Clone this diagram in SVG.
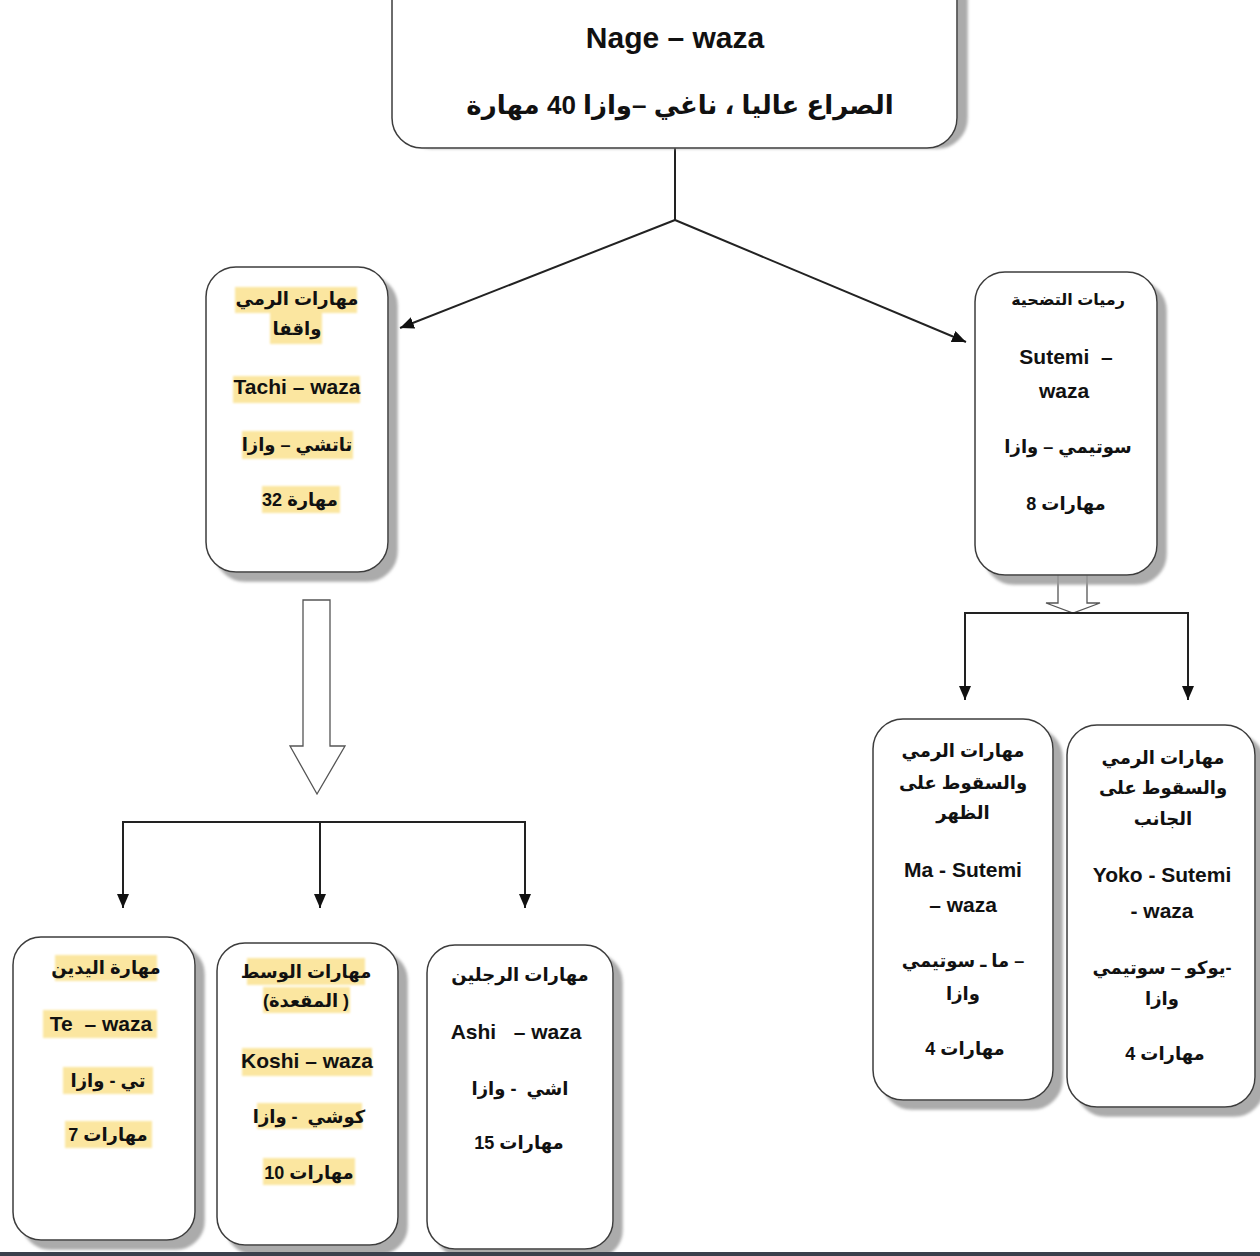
<svg xmlns="http://www.w3.org/2000/svg" width="1260" height="1256" viewBox="0 0 1260 1256">
<style>
.box{fill:#fff;stroke:#3c3c3c;stroke-width:1.5;filter:url(#sh)}
.t{font-family:"Liberation Sans","DejaVu Sans",sans-serif;font-weight:bold;fill:#111;text-anchor:middle}
.lat{font-size:21px}
.ar{font-size:18px}
.hl{fill:#fbe6a0}
.ln{fill:none;stroke:#222;stroke-width:2}
.hol{fill:#fff;stroke:#555;stroke-width:1.3}
</style>
<defs>
<filter id="sh" x="-10%" y="-10%" width="130%" height="130%">
<feDropShadow dx="9" dy="9" stdDeviation="1.5" flood-color="#9c9c9c" flood-opacity="0.85"/>
</filter>
<filter id="sh2" x="-10%" y="-10%" width="130%" height="130%">
<feDropShadow dx="10" dy="0" stdDeviation="1.5" flood-color="#9c9c9c" flood-opacity="0.85"/>
</filter>
<filter id="soft" x="-10%" y="-20%" width="120%" height="140%">
<feGaussianBlur stdDeviation="1.2"/>
</filter>
<marker id="ah" markerUnits="userSpaceOnUse" markerWidth="14" markerHeight="12" viewBox="0 0 14 12" refX="14" refY="6" orient="auto">
<path d="M0,0 L14,6 L0,12 z" fill="#111"/>
</marker>
</defs>
<rect x="0" y="0" width="1260" height="1256" fill="#fff"/>

<g id="connectors">
<line class="ln" x1="675" y1="148" x2="675" y2="220"/>
<line class="ln" x1="675" y1="220" x2="400" y2="328" marker-end="url(#ah)"/>
<line class="ln" x1="675" y1="220" x2="966" y2="342" marker-end="url(#ah)"/>
<polygon class="hol" points="303,600 330,600 330,746 345,746 317,794 290,746 303,746"/>
<polyline class="ln" points="123,908 123,822 525,822 525,908" marker-end="url(#ah)"/>
<line class="ln" x1="123" y1="822" x2="123" y2="908" marker-end="url(#ah)"/>
<line class="ln" x1="320" y1="822" x2="320" y2="908" marker-end="url(#ah)"/>
<polygon class="hol" points="1058,574 1087,574 1087,603 1100,603 1073,613 1046,603 1058,603"/>
<polyline class="ln" points="965,700 965,613 1188,613 1188,700" marker-end="url(#ah)"/>
<line class="ln" x1="965" y1="613" x2="965" y2="700" marker-end="url(#ah)"/>
</g>

<g id="nage-waza">
<rect x="392" y="-30" width="565" height="178" rx="30" fill="#fff" stroke="#3c3c3c" stroke-width="1.5" filter="url(#sh2)"/>
<text class="t" x="675" y="48" style="font-size:30px">Nage – waza</text>
<text class="t" x="680" y="114" style="font-size:26px">الصراع عاليا ، ناغي –وازا 40 مهارة</text>
</g>

<g id="tachi-waza">
<rect class="box" x="206" y="267" width="182" height="305" rx="30"/>
<g filter="url(#soft)">
<rect class="hl" x="235" y="287" width="122" height="26"/>
<rect class="hl" x="270" y="313" width="52" height="31"/>
<rect class="hl" x="233" y="376" width="127" height="27"/>
<rect class="hl" x="242" y="431" width="111" height="28"/>
<rect class="hl" x="262" y="486" width="78" height="27"/>
</g>
<text class="t ar" x="297" y="305">مهارات الرمي</text>
<text class="t ar" x="297" y="335">واقفا</text>
<text class="t lat" x="297" y="394">Tachi – waza</text>
<text class="t ar" x="297" y="451">تاتشي – وازا</text>
<text class="t ar" x="300" y="506">32 مهارة</text>
</g>

<g id="sutemi-waza">
<rect class="box" x="975" y="272" width="182" height="303" rx="30"/>
<text class="t" x="1068" y="305" style="font-size:16px">رميات التضحية</text>
<text class="t lat" x="1066" y="364">Sutemi&#160; –</text>
<text class="t lat" x="1064" y="398">waza</text>
<text class="t ar" x="1068" y="453">سوتيمي – وازا</text>
<text class="t ar" x="1066" y="510">8 مهارات</text>
</g>

<g id="ma-sutemi-waza">
<rect class="box" x="873" y="719" width="180" height="381" rx="30"/>
<text class="t ar" x="963" y="757">مهارات الرمي</text>
<text class="t ar" x="963" y="789">والسقوط على</text>
<text class="t ar" x="963" y="819">الظهر</text>
<text class="t lat" x="963" y="877">Ma - Sutemi</text>
<text class="t lat" x="963" y="912">– waza</text>
<text class="t ar" x="963" y="967">ما ـ سوتيمي –</text>
<text class="t ar" x="963" y="1000">وازا</text>
<text class="t ar" x="965" y="1055">4 مهارات</text>
</g>

<g id="yoko-sutemi-waza">
<rect class="box" x="1067" y="725" width="188" height="382" rx="30"/>
<text class="t ar" x="1163" y="764">مهارات الرمي</text>
<text class="t ar" x="1163" y="794">والسقوط على</text>
<text class="t ar" x="1163" y="825">الجانب</text>
<text class="t lat" x="1162" y="882">Yoko - Sutemi</text>
<text class="t lat" x="1162" y="918">- waza</text>
<text class="t ar" x="1162" y="974">يوكو – سوتيمي-</text>
<text class="t ar" x="1162" y="1005">وازا</text>
<text class="t ar" x="1165" y="1060">4 مهارات</text>
</g>

<g id="te-waza">
<rect class="box" x="13" y="937" width="182" height="303" rx="28"/>
<g filter="url(#soft)">
<rect class="hl" x="55" y="955" width="102" height="26"/>
<rect class="hl" x="43" y="1010" width="114" height="28"/>
<rect class="hl" x="63" y="1067" width="90" height="27"/>
<rect class="hl" x="65" y="1121" width="87" height="27"/>
</g>
<text class="t ar" x="106" y="974">مهارة اليدين</text>
<text class="t lat" x="101" y="1031">Te&#160; – waza</text>
<text class="t ar" x="108" y="1087">تي - وازا</text>
<text class="t ar" x="108" y="1141">7 مهارات</text>
</g>

<g id="koshi-waza">
<rect class="box" x="217" y="943" width="181" height="302" rx="28"/>
<g filter="url(#soft)">
<rect class="hl" x="247" y="958" width="118" height="27"/>
<rect class="hl" x="263" y="987" width="87" height="26"/>
<rect class="hl" x="242" y="1048" width="130" height="28"/>
<rect class="hl" x="257" y="1103" width="105" height="26"/>
<rect class="hl" x="263" y="1158" width="92" height="27"/>
</g>
<text class="t ar" x="306" y="978">مهارات الوسط</text>
<text class="t ar" x="306" y="1007">(المقعدة )</text>
<text class="t lat" x="307" y="1068">Koshi – waza</text>
<text class="t ar" x="309" y="1123">كوشي&#160; - وازا</text>
<text class="t ar" x="309" y="1179">10 مهارات</text>
</g>

<g id="ashi-waza">
<rect class="box" x="427" y="945" width="186" height="304" rx="28"/>
<text class="t ar" x="520" y="981">مهارات الرجلين</text>
<text class="t lat" x="516" y="1039">Ashi&#160;&#160; – waza</text>
<text class="t ar" x="520" y="1095">اشي&#160; - وازا</text>
<text class="t ar" x="519" y="1149">15 مهارات</text>
</g>

<rect x="0" y="1252" width="1260" height="4" fill="#3a404c"/>
</svg>
